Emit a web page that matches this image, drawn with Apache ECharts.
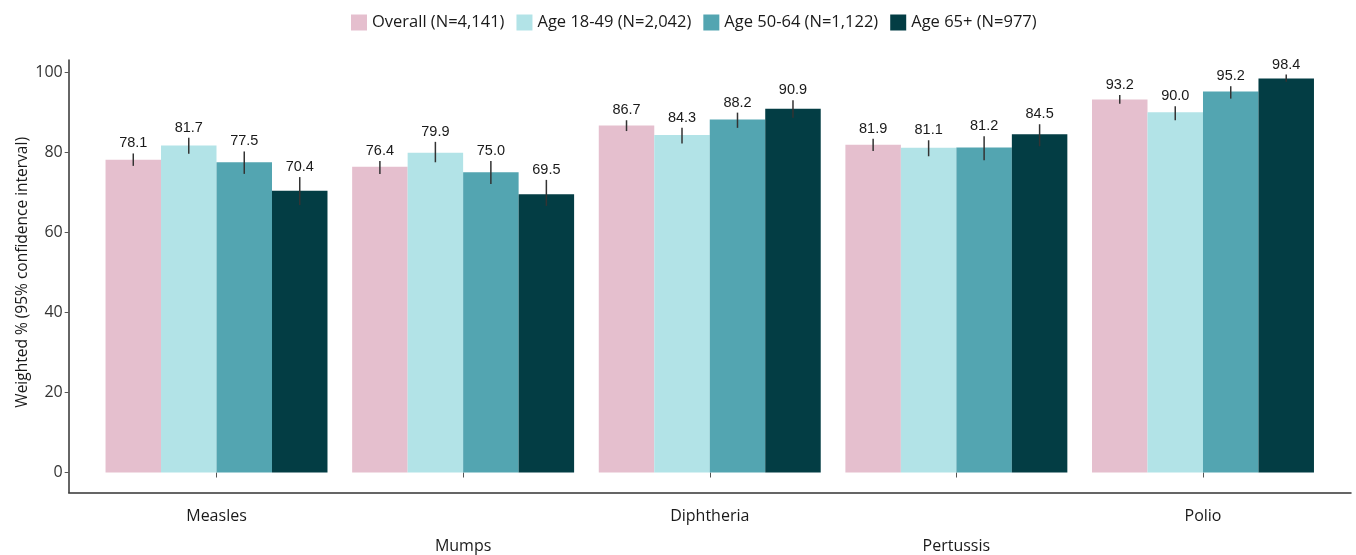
<!DOCTYPE html>
<html>
<head>
<meta charset="utf-8">
<script src="https://cdn.jsdelivr.net/npm/echarts@6/dist/echarts.min.js"></script>
<style>
html,body{margin:0;padding:0;background:#fff;}
#chart{width:1356px;height:555px;}
</style>
</head>
<body>
<div id="chart"></div>
<script>
const categories = ['Measles', 'Mumps', 'Diphtheria', 'Pertussis', 'Polio'];
const seriesNames = ['Overall (N=4,141)', 'Age 18-49 (N=2,042)', 'Age 50-64 (N=1,122)', 'Age 65+ (N=977)'];
const overall = [78.1, 76.4, 86.7, 81.9, 93.2];
const age1849 = [81.7, 79.9, 84.3, 81.1, 90.0];
const age5064 = [77.5, 75.0, 88.2, 81.2, 95.2];
const age65 = [70.4, 69.5, 90.9, 84.5, 98.4];
const overallLow = [76.6, 74.6, 85.3, 80.3, 92.1];
const overallHigh = [79.7, 77.8, 88.0, 83.4, 94.3];
const age1849Low = [79.6, 77.5, 82.2, 79.0, 88.0];
const age1849High = [83.6, 82.6, 86.1, 83.0, 91.5];
const age5064Low = [74.6, 72.1, 86.1, 78.0, 93.4];
const age5064High = [80.2, 77.8, 89.9, 84.0, 96.5];
const age65Low = [66.8, 66.6, 88.6, 81.5, 97.6];
const age65High = [73.8, 73.1, 93.0, 87.0, 99.4];
const yTicks = [0, 20, 40, 60, 80, 100];

const colors = ['#E5BFCE', '#B2E3E7', '#53A5B1', '#033D44'];
const vals = [overall, age1849, age5064, age65];
const lows = [overallLow, age1849Low, age5064Low, age65Low];
const highs = [overallHigh, age1849High, age5064High, age65High];

const chart = echarts.init(document.getElementById('chart'), null, {renderer: 'canvas'});

const barSeries = seriesNames.map((n, si) => ({
  name: n,
  type: 'bar',
  xAxisIndex: 0,
  yAxisIndex: 0,
  data: vals[si],
  barGap: '0%',
  barCategoryGap: '10%',
  itemStyle: {color: colors[si]},
  emphasis: {disabled: true},
  animation: false
}));

const errSeries = seriesNames.map((n, si) => ({
  type: 'custom',
  xAxisIndex: 0,
  yAxisIndex: 0,
  z: 5,
  silent: true,
  animation: false,
  encode: {x: 0, y: [1, 2]},
  data: categories.map((c, i) => [i, lows[si][i], highs[si][i], vals[si][i]]),
  renderItem: function (params, api) {
    const idx = api.value(0);
    const top = api.coord([idx, api.value(2)]);
    const bot = api.coord([idx, api.value(1)]);
    const band = api.size([1, 0])[0];
    const bw = band * 0.9 / 4;
    const x = top[0] + (si - 1.5) * bw;
    return {
      type: 'group',
      children: [
        {type: 'line', shape: {x1: x, y1: top[1], x2: x, y2: bot[1]},
         style: {stroke: '#333333', lineWidth: 1.5}},
        {type: 'text', style: {text: api.value(3).toFixed(1), x: x, y: top[1] - 10,
          align: 'center', verticalAlign: 'middle', fill: '#1a1a1a',
          font: '14.5px "Liberation Sans", Arial, sans-serif'}}
      ]
    };
  }
}));

const option = {
  backgroundColor: '#ffffff',
  animation: false,
  legend: {
    data: seriesNames,
    left: 346,
    top: 9,
    icon: 'rect',
    itemWidth: 16,
    itemHeight: 16,
    itemGap: 12,
    textStyle: {fontFamily: '"Open Sans", sans-serif', fontSize: 16.5, color: '#1a1a1a'}
  },
  grid: [
    {left: 93.2, right: 29.7, top: 72.2, bottom: 82.5, containLabel: false, outerBoundsMode: 'none'},
    {left: 68.7, right: 5, top: 60, bottom: 62.7, containLabel: false, outerBoundsMode: 'none'}
  ],
  xAxis: [
    {
      type: 'category', gridIndex: 0, data: categories, offset: 20,
      axisLine: {show: false},
      axisTick: {show: true, alignWithLabel: true, length: 5, lineStyle: {color: '#555'}},
      axisLabel: {
        margin: 9, fontFamily: '"Open Sans", sans-serif', fontSize: 16, color: '#1a1a1a',
        lineHeight: 30, interval: 0,
        formatter: function (v, i) { return i % 2 ? '\n' + v : v; }
      },
      splitLine: {show: false}
    },
    {
      type: 'value', gridIndex: 1, min: 0, max: 1,
      axisLine: {show: true, onZero: false, lineStyle: {color: '#333', width: 1.5}},
      axisTick: {show: false}, axisLabel: {show: false}, splitLine: {show: false}
    }
  ],
  yAxis: [
    {
      type: 'value', gridIndex: 0, min: yTicks[0], max: yTicks[yTicks.length - 1], interval: 20,
      offset: 24.5,
      name: 'Weighted % (95% confidence interval)',
      nameLocation: 'middle', nameGap: 38, nameMoveOverlap: false,
      nameTextStyle: {fontFamily: '"Open Sans", sans-serif', fontSize: 15.5, color: '#1a1a1a'},
      axisLine: {show: false},
      axisTick: {show: true, length: 4, lineStyle: {color: '#555'}},
      axisLabel: {margin: 6, fontFamily: '"Open Sans", sans-serif', fontSize: 16, color: '#333'},
      splitLine: {show: false}
    },
    {
      type: 'value', gridIndex: 1, min: 0, max: 1,
      axisLine: {show: true, onZero: false, lineStyle: {color: '#333', width: 1.5}},
      axisTick: {show: false}, axisLabel: {show: false}, splitLine: {show: false}
    }
  ],
  series: barSeries.concat(errSeries)
};
chart.setOption(option);
</script>
</body>
</html>
